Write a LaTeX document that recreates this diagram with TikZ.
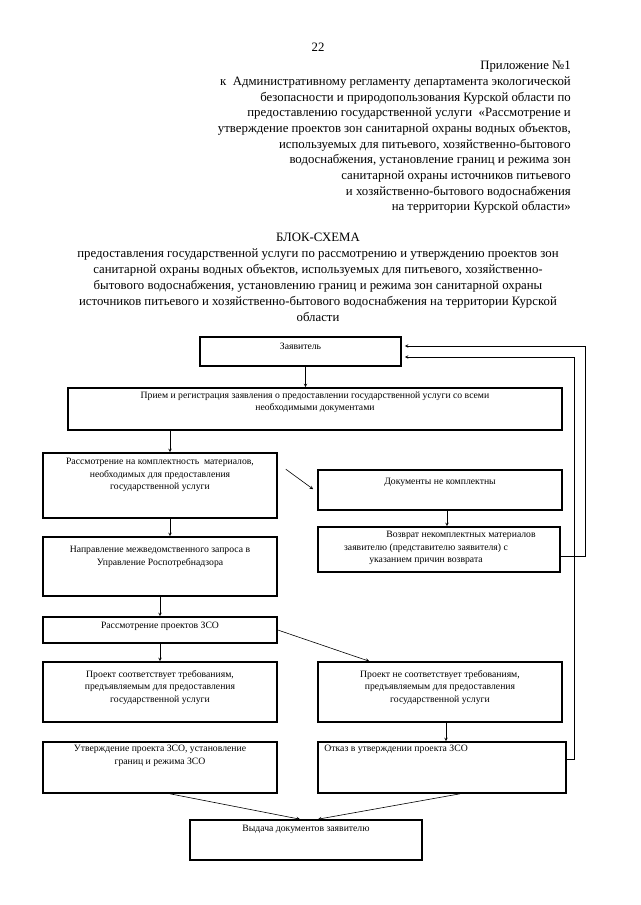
\documentclass[tikz,border=0pt]{standalone}
\usepackage{fontspec}
\setmainfont{Liberation Serif}
\usetikzlibrary{arrows, positioning, calc}

\begin{document}
\begin{tikzpicture}[
    x=1pt, y=-1pt,
    box/.style={draw, rectangle, line width=1.6pt, inner sep=0pt},
    boxtext/.style={inner sep=0pt, align=center, font=\fontsize{9.7}{12.5}\selectfont},
    head/.style={inner sep=0pt, font=\fontsize{12.8}{15.7}\selectfont},
    arrow/.style={->, >=stealth, line width=0.6pt}
]
\useasboundingbox (0,0) rectangle (640,905);

% Page number and header
\node[head] (pagenum) at (318,47) {22};
\node[head, align=right, anchor=north east] (header) at (571,61) {Приложение №1\\
к\ \ Административному регламенту департамента экологической\\
безопасности и природопользования Курской области по\\
предоставлению государственной услуги\ \ «Рассмотрение и\\
утверждение проектов зон санитарной охраны водных объектов,\\
используемых для питьевого, хозяйственно-бытового\\
водоснабжения, установление границ и режима зон\\
санитарной охраны источников питьевого\hspace*{11pt}\\
и хозяйственно-бытового водоснабжения\hspace*{11pt}\\
на территории Курской области»};

% Title
\node[head, align=center, anchor=north, font=\fontsize{12.8}{16}\selectfont] (title) at (318,233) {БЛОК-СХЕМА\\
предоставления государственной услуги по рассмотрению и утверждению проектов зон\\
санитарной охраны водных объектов, используемых для питьевого, хозяйственно-\\
бытового водоснабжения, установлению границ и режима зон санитарной охраны\\
источников питьевого и хозяйственно-бытового водоснабжения на территории Курской\\
области};

% Blocks
\node[box, minimum width=201, minimum height=29] (zayav) at (300.5,351.5) {};
\node[boxtext, below=7pt of zayav.north] (zayav-t) {Заявитель};

\node[box, minimum width=494, minimum height=42] (priem) at (315,409) {};
\node[boxtext, below=4pt of priem.north] (priem-t) {Прием и регистрация заявления о предоставлении государственной услуги со всеми\\ необходимыми документами};

\node[box, minimum width=234, minimum height=65] (komp) at (160,485.5) {};
\node[boxtext, below=6pt of komp.north] (komp-t) {Рассмотрение на комплектность\ \ материалов,\\ необходимых для предоставления\\ государственной услуги};

\node[box, minimum width=244, minimum height=40] (nekomp) at (440,490) {};
\node[boxtext, below=9pt of nekomp.north] (nekomp-t) {Документы не комплектны};

\node[box, minimum width=242, minimum height=45] (vozvr) at (439,549.5) {};
\node[boxtext, below=5pt of vozvr.north, xshift=-13pt] (vozvr-t) {\hspace*{70pt}Возврат некомплектных материалов\\ заявителю (представителю заявителя) с\\ указанием причин возврата};

\node[box, minimum width=234, minimum height=59] (naprav) at (160,566.5) {};
\node[boxtext, below=10pt of naprav.north] (naprav-t) {Направление межведомственного запроса в\\ Управление Роспотребнадзора};

\node[box, minimum width=234, minimum height=26] (zso) at (160,630) {};
\node[boxtext, below=6pt of zso.north] (zso-t) {Рассмотрение проектов ЗСО};

\node[box, minimum width=234, minimum height=60] (sootv) at (160,692) {};
\node[boxtext, below=9pt of sootv.north] (sootv-t) {Проект соответствует требованиям,\\ предъявляемым для предоставления\\ государственной услуги};

\node[box, minimum width=244, minimum height=60] (nesootv) at (440,692) {};
\node[boxtext, below=9pt of nesootv.north] (nesootv-t) {Проект не соответствует требованиям,\\ предъявляемым для предоставления\\ государственной услуги};

\node[box, minimum width=234, minimum height=51] (utv) at (160,767.5) {};
\node[boxtext, below=4pt of utv.north] (utv-t) {Утверждение проекта ЗСО, установление\\ границ и режима ЗСО};

\node[box, minimum width=248, minimum height=51] (otkaz) at (442,767.5) {};
\node[boxtext, align=left, below right=4pt and 7pt of otkaz.north west] (otkaz-t) {Отказ в утверждении проекта ЗСО};

\node[box, minimum width=232, minimum height=40] (vydacha) at (306,840) {};
\node[boxtext, below=6pt of vydacha.north] (vydacha-t) {Выдача документов заявителю};

% Arrows down the left column
\draw[arrow] ([xshift=5pt]zayav.south) -- ([xshift=5pt]zayav.south |- priem.north);
\draw[arrow] ([xshift=10pt]komp.north |- priem.south) -- ([xshift=10pt]komp.north);
\draw[arrow] ([xshift=10pt]komp.south) -- ([xshift=10pt]naprav.north);
\draw[arrow] (naprav.south) -- (zso.north);
\draw[arrow] (zso.south) -- (sootv.north);

% Arrows to the right column
\draw[arrow] ($(komp.north east)+(8,17)$) -- ($(nekomp.north west)+(-4,20)$);
\draw[arrow] ([xshift=7pt]nekomp.south) -- ([xshift=7pt]nekomp.south |- vozvr.north);
\draw[arrow] (zso.east) -- ($(nesootv.north west)+(52,0)$);
\draw[arrow] ([xshift=6pt]nesootv.south) -- ([xshift=6pt]nesootv.south |- otkaz.north);

% Arrows to the last block
\draw[arrow] ([xshift=10pt]utv.south) -- ([xshift=-6pt]vydacha.north);
\draw[arrow] ([xshift=18pt]otkaz.south) -- ([xshift=12pt]vydacha.north);

% Return lines back to the applicant
\coordinate (ret1) at ($(zayav.east)+(183,-5.5)$);
\coordinate (ret2) at ($(zayav.east)+(172,5.5)$);
\draw[arrow] ($(vozvr.east)+(0,6.5)$) -| (ret1) -- ($(zayav.east)+(3,-5.5)$);
\draw[arrow] ($(otkaz.east)+(0,-8.5)$) -| (ret2) -- ($(zayav.east)+(3,5.5)$);

\end{tikzpicture}
\end{document}
